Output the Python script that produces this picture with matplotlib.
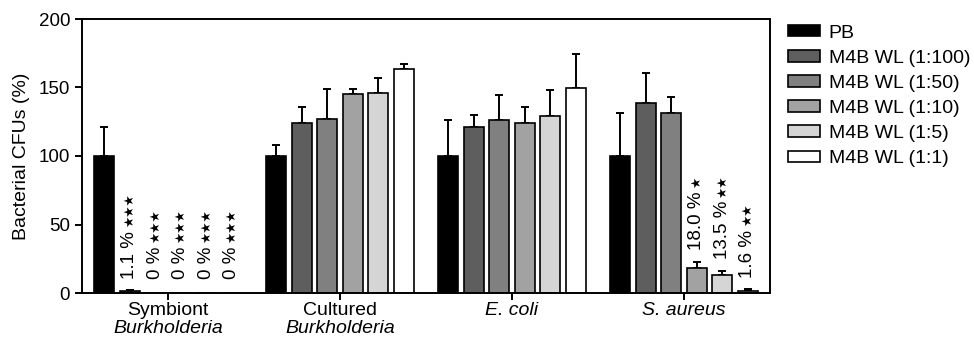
import numpy as np
import matplotlib
matplotlib.use("Agg")
import matplotlib.pyplot as plt
from matplotlib.transforms import blended_transform_factory

plt.rcParams['font.family'] = ['Liberation Sans', 'DejaVu Sans']

groups_line1 = ["Symbiont", "Cultured", "E. coli", "S. aureus"]
groups_line2 = ["Burkholderia", "Burkholderia", "", ""]
line1_italic = [False, False, True, True]

series = ["PB", "M4B WL (1:100)", "M4B WL (1:50)", "M4B WL (1:10)",
          "M4B WL (1:5)", "M4B WL (1:1)"]
colors = ["#000000", "#5e5e5e", "#808080", "#a2a2a2", "#d5d5d5", "#ffffff"]

# values per group (cols: series)
symbiont = [100, 1.1, 0, 0, 0, 0]
cultured = [100, 123.9, 127, 145.3, 145.8, 163.5]
ecoli = [100, 121.4, 126, 124.1, 129.2, 149.9]
saureus = [100, 138.7, 131.4, 18.0, 13.5, 1.6]

symbiont_err = [21.5, 0.9, 0, 0, 0, 0]
cultured_err = [8, 11.6, 22, 3.4, 11.1, 3.7]
ecoli_err = [26.5, 8.8, 18.5, 11.7, 19, 24.3]
saureus_err = [31.6, 21.9, 11.4, 4.6, 2.5, 1.1]

symbiont_labels = ["", "1.1 %", "0 %", "0 %", "0 %", "0 %"]
symbiont_stars = ["", "***", "***", "***", "***", "***"]
cultured_labels = [""] * 6
cultured_stars = [""] * 6
ecoli_labels = [""] * 6
ecoli_stars = [""] * 6
saureus_labels = ["", "", "", "18.0 %", "13.5 %", "1.6 %"]
saureus_stars = ["", "", "", "*", "**", "**"]

values = np.array([symbiont, cultured, ecoli, saureus])
errors = np.array([symbiont_err, cultured_err, ecoli_err, saureus_err])
labels = [symbiont_labels, cultured_labels, ecoli_labels, saureus_labels]
stars = [symbiont_stars, cultured_stars, ecoli_stars, saureus_stars]

fig = plt.figure(figsize=(9.74, 3.37), dpi=100)
ax = fig.add_axes([82/974, 44/337, (770-82)/974, (293-19)/337])

group_step = 6.72
centers = np.arange(len(groups_line1)) * group_step
width = 0.78
FS = 13.5

for j, name in enumerate(series):
    x = centers + (j - 2.5)
    ax.bar(x, values[:, j], width=width, color=colors[j], edgecolor="black",
           linewidth=1.2, label=name, zorder=2)
    err = errors[:, j]
    mask = values[:, j] > 0
    ax.errorbar(x[mask], values[mask, j], yerr=[np.zeros(mask.sum()), err[mask]],
                fmt="none", ecolor="black", elinewidth=1.4, capsize=2.8,
                capthick=1.4, zorder=1)
    for g in range(len(groups_line1)):
        lab = labels[g][j]
        if lab:
            top = values[g, j] + errors[g, j]
            t = ax.text(x[g], max(top, 1.5) + 8.5, lab, rotation=90,
                        ha="center", va="bottom", fontsize=FS)
            st = stars[g][j].replace("*", "\u2605")
            ax.annotate(st, xy=(0.5, 1.0), xycoords=t, xytext=(0, 2.5),
                        textcoords="offset points", rotation=90, ha="center",
                        va="bottom", fontsize=9, family="DejaVu Sans")

ax.set_ylim(0, 200)
ax.set_xlim(centers[0] - 3.36, centers[-1] + 3.36)
ax.set_yticks([0, 50, 100, 150, 200])
ax.set_xticks(centers)
ax.set_xticklabels([])
ax.tick_params(axis="both", direction="out", length=5, width=1.4, labelsize=FS)
for s in ax.spines.values():
    s.set_linewidth(1.4)
ax.set_ylabel("Bacterial CFUs (%)", fontsize=14, labelpad=6)

trans = blended_transform_factory(ax.transData, ax.transAxes)
for g, c in enumerate(centers):
    ax.text(c, -0.064, groups_line1[g], ha="center", va="center", fontsize=14,
            style="italic" if line1_italic[g] else "normal", transform=trans)
    if groups_line2[g]:
        ax.text(c, -0.13, groups_line2[g], ha="center", va="center",
                fontsize=14, style="italic", transform=trans)

leg = fig.legend(loc="upper left", bbox_to_anchor=(788/974, 1 - 24.5/337),
                 frameon=False, fontsize=14, handlelength=1.65,
                 handleheight=0.55, handletextpad=0.45, labelspacing=0.42,
                 borderpad=0, borderaxespad=0)
for p in leg.get_patches():
    p.set_linewidth(1.2)

fig.savefig("out.png", dpi=100)
